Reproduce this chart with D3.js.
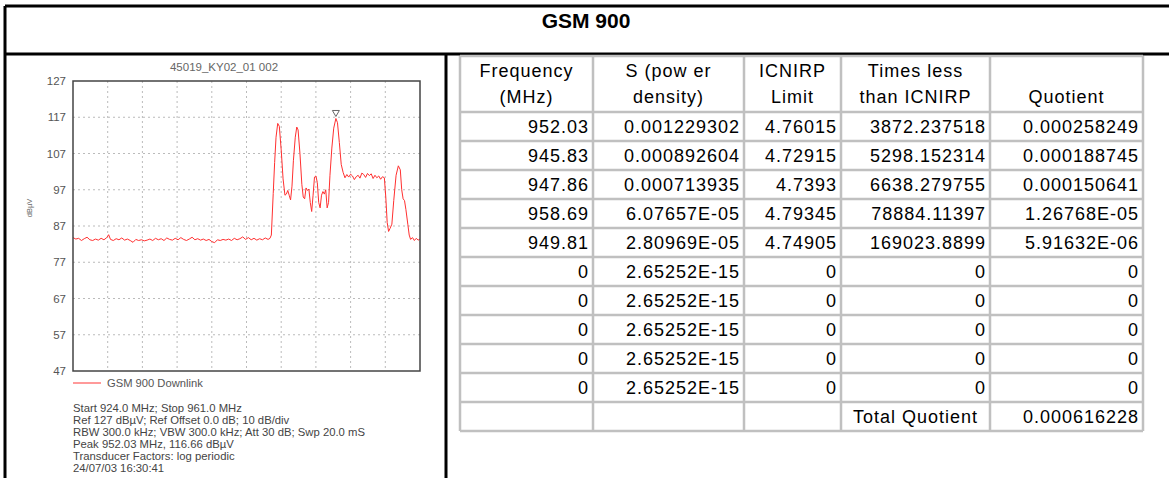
<!DOCTYPE html>
<html>
<head>
<meta charset="utf-8">
<script src="https://cdn.jsdelivr.net/npm/d3@7"></script>
<style>
body { margin: 0; background: #fff; }
svg { display: block; font-family: "Liberation Sans", Arial, sans-serif; }
</style>
</head>
<body>
<svg id="vis"></svg>
<script>
const WIDTH = 1169;
const HEIGHT = 478;

// ---- spectrum trace ----
const traceMHz = [
  924.0, 924.3, 924.6, 924.9, 925.2, 925.5, 925.8, 926.1, 926.4, 926.7,
  927.0, 927.3, 927.6, 927.8, 928.0, 928.3, 928.6, 928.9, 929.2, 929.5,
  929.8, 930.1, 930.4, 930.7, 931.0, 931.3, 931.6, 931.9, 932.2, 932.5,
  932.8, 933.1, 933.4, 933.7, 934.0, 934.3, 934.6, 934.9, 935.2, 935.5,
  935.8, 936.1, 936.4, 936.7, 937.0, 937.3, 937.6, 937.9, 938.2, 938.5,
  938.8, 939.1, 939.4, 939.7, 940.0, 940.3, 940.6, 940.9, 941.2, 941.5,
  941.8, 942.1, 942.4, 942.7, 943.0, 943.3, 943.6, 943.9, 944.2, 944.5,
  944.8, 945.0, 945.15, 945.35, 945.5, 945.65, 945.83, 946.0, 946.2, 946.4,
  946.6, 946.75, 946.9, 947.05, 947.2, 947.35, 947.5, 947.7, 947.86, 948.0,
  948.2, 948.4, 948.55, 948.7, 948.85, 949.0, 949.15, 949.3, 949.45, 949.6,
  949.75, 949.9, 950.05, 950.2, 950.35, 950.5, 950.65, 950.8, 950.95, 951.1,
  951.25, 951.4, 951.6, 951.8, 952.03, 952.2, 952.4, 952.6, 952.8, 953.0,
  953.2, 953.4, 953.6, 953.8, 954.0, 954.2, 954.4, 954.6, 954.8, 955.0,
  955.2, 955.4, 955.6, 955.8, 956.0, 956.2, 956.4, 956.6, 956.8, 957.0,
  957.2, 957.35, 957.5, 957.65, 957.8, 958.0, 958.2, 958.45, 958.69, 958.9,
  959.05, 959.2, 959.35, 959.5, 959.7, 959.85, 960.0, 960.2, 960.4, 960.6,
  960.8, 961.0
];
const traceDbuv = [
  83.8, 83.4, 83.6, 83.0, 83.5, 83.9, 83.2, 83.0, 83.4, 83.1,
  83.6, 83.2, 83.8, 84.6, 83.3, 83.0, 83.5, 83.2, 83.7, 83.1,
  83.4, 83.0, 82.5, 83.3, 83.0, 83.2, 82.9, 83.1, 83.4, 83.0,
  83.6, 83.2, 83.5, 83.0, 83.7, 83.3, 83.1, 83.6, 83.2, 83.8,
  83.3, 83.0, 83.4, 83.9, 83.2, 83.5, 83.1, 83.4, 83.0, 83.3,
  82.7, 82.4, 83.2, 83.0, 83.3, 83.1, 83.4, 83.0, 83.6, 83.2,
  83.5, 84.0, 83.3, 83.8, 83.2, 83.6, 83.1, 83.5, 83.2, 83.7,
  83.3, 83.6, 84.5, 96.0, 104.5, 111.5, 115.3, 114.5, 108.0, 100.0,
  95.5, 95.8, 96.8, 95.5, 94.2, 98.0, 105.0, 111.5, 114.3, 113.5,
  107.0, 98.5, 95.0, 94.5, 97.5, 96.8, 97.2, 93.5, 91.0, 95.5,
  100.5, 100.8, 99.0, 93.5, 92.0, 95.5, 96.5, 95.8, 97.0, 92.0,
  93.5, 101.0, 108.5, 114.0, 116.66, 115.5, 110.0, 104.0, 101.8, 100.3,
  101.2, 100.5, 101.3, 100.8, 99.8, 100.6, 101.0, 100.2, 101.6, 101.2,
  100.4, 101.5, 100.9, 101.4, 100.1, 101.0, 100.3, 100.8, 99.9, 100.6,
  100.3, 95.0, 88.0, 85.5, 86.3, 87.5, 94.0, 101.0, 103.6, 102.5,
  97.0, 94.5, 94.0, 91.5, 87.5, 84.5, 83.3, 83.8, 83.0, 83.6,
  83.1, 83.4
];
const yTickValues = [47, 57, 67, 77, 87, 97, 107, 117, 127];
const peakMarker = { mhz: 952.03, dbuv: 116.66 };
const chartTitle = "45019_KY02_01 002";
const legendLabel = "GSM 900 Downlink";
const infoLines = [
  "Start 924.0 MHz; Stop 961.0 MHz",
  "Ref 127 dB\u00b5V; Ref Offset 0.0 dB; 10 dB/div",
  "RBW 300.0 kHz; VBW 300.0 kHz; Att 30 dB; Swp 20.0 mS",
  "Peak 952.03 MHz, 116.66 dB\u00b5V",
  "Transducer Factors: log periodic",
  "24/07/03 16:30:41"
];

// ---- table values ----
const headerLines = [
  ["Frequency", "(MHz)"],
  ["S (pow er", "density)"],
  ["ICNIRP", "Limit"],
  ["Times less", "than ICNIRP"],
  ["", "Quotient"]
];
const colFrequency = ["952.03", "945.83", "947.86", "958.69", "949.81", "0", "0", "0", "0", "0", ""];
const colPowerDensity = ["0.001229302", "0.000892604", "0.000713935", "6.07657E-05", "2.80969E-05",
  "2.65252E-15", "2.65252E-15", "2.65252E-15", "2.65252E-15", "2.65252E-15", ""];
const colLimit = ["4.76015", "4.72915", "4.7393", "4.79345", "4.74905", "0", "0", "0", "0", "0", ""];
const colTimesLess = ["3872.237518", "5298.152314", "6638.279755", "78884.11397", "169023.8899",
  "0", "0", "0", "0", "0", "Total Quotient"];
const colQuotient = ["0.000258249", "0.000188745", "0.000150641", "1.26768E-05", "5.91632E-06",
  "0", "0", "0", "0", "0", "0.000616228"];

const svg = d3.select("#vis").attr("width", WIDTH).attr("height", HEIGHT);
svg.append("rect").attr("width", WIDTH).attr("height", HEIGHT).attr("fill", "#fff");

// ---------- outer frame ----------
const frame = svg.append("g").attr("stroke", "#000").attr("stroke-width", 3);
frame.append("line").attr("x1", 5).attr("x2", WIDTH).attr("y1", 6).attr("y2", 6);
frame.append("line").attr("x1", 5).attr("x2", WIDTH).attr("y1", 54).attr("y2", 54);
frame.append("line").attr("x1", 5).attr("x2", 5).attr("y1", 6).attr("y2", HEIGHT);
frame.append("line").attr("x1", 446).attr("x2", 446).attr("y1", 54).attr("y2", HEIGHT);

svg.append("text")
  .attr("x", 586).attr("y", 28)
  .attr("text-anchor", "middle")
  .attr("font-size", 21).attr("font-weight", "bold")
  .text("GSM 900");

// ---------- spectrum chart ----------
const plot = { left: 73, right: 420, top: 81, bottom: 371 };
const x = d3.scaleLinear().domain([924, 961]).range([plot.left, plot.right]);
const y = d3.scaleLinear().domain([47, 127]).range([plot.bottom, plot.top]);

const chart = svg.append("g");

chart.append("text")
  .attr("x", 224).attr("y", 71)
  .attr("text-anchor", "middle")
  .attr("font-size", 11.5).attr("fill", "#666")
  .text(chartTitle);

// grid
const xGrid = d3.range(1, 10).map(i => 924 + i * 3.7);
chart.append("g").selectAll("line").data(xGrid).join("line")
  .attr("x1", d => x(d)).attr("x2", d => x(d))
  .attr("y1", plot.top).attr("y2", plot.bottom)
  .attr("stroke", "#bbb").attr("stroke-dasharray", "2,3");
chart.append("g").selectAll("line").data(yTickValues.slice(1, -1)).join("line")
  .attr("x1", plot.left).attr("x2", plot.right)
  .attr("y1", d => y(d)).attr("y2", d => y(d))
  .attr("stroke", "#bbb").attr("stroke-dasharray", "2,3");

// y axis labels
const yAxis = d3.axisLeft(y).tickValues(yTickValues).tickSize(0).tickPadding(7);
chart.append("g")
  .attr("transform", `translate(${plot.left},0)`)
  .call(yAxis)
  .call(g => g.select(".domain").remove())
  .call(g => g.selectAll("text")
    .attr("font-size", 11.5).attr("fill", "#555")
    .attr("font-family", "\"Liberation Sans\", Arial, sans-serif"));

chart.append("text")
  .attr("transform", "translate(32,208) rotate(-90)")
  .attr("text-anchor", "middle")
  .attr("font-size", 7.5).attr("fill", "#666")
  .text("dB\u00b5V");

// trace
const line = d3.line().x(d => x(d[0])).y(d => y(d[1]));
chart.append("path")
  .datum(d3.zip(traceMHz, traceDbuv))
  .attr("d", line)
  .attr("fill", "none")
  .attr("stroke", "#ff3030")
  .attr("stroke-width", 1);

// peak marker
const px = x(peakMarker.mhz), py = y(peakMarker.dbuv) - 2;
chart.append("path")
  .attr("d", `M${px - 3.5},${py - 6} L${px + 3.5},${py - 6} L${px},${py} Z`)
  .attr("fill", "#fff").attr("stroke", "#666").attr("stroke-width", 1);

// plot frame
chart.append("rect")
  .attr("x", plot.left).attr("y", plot.top)
  .attr("width", plot.right - plot.left).attr("height", plot.bottom - plot.top)
  .attr("fill", "none").attr("stroke", "#444").attr("stroke-width", 1.5);

// legend
chart.append("line")
  .attr("x1", 73).attr("x2", 101).attr("y1", 383).attr("y2", 383)
  .attr("stroke", "#ff9a9a").attr("stroke-width", 2);
chart.append("text")
  .attr("x", 107).attr("y", 387)
  .attr("font-size", 11.2).attr("fill", "#555")
  .text(legendLabel);

chart.append("g").selectAll("text").data(infoLines).join("text")
  .attr("x", 73)
  .attr("y", (d, i) => 412 + i * 11.9)
  .attr("font-size", 11.3).attr("fill", "#444")
  .text(d => d);

// ---------- table ----------
const colEdges = [460, 593, 744, 841, 990, 1143];
const columns = [colFrequency, colPowerDensity, colLimit, colTimesLess, colQuotient];
const nRows = colFrequency.length;
const headTop = 56, headBottom = 112, tableBottom = 431;
const rowScale = d3.scaleBand().domain(d3.range(nRows)).range([headBottom, tableBottom]);

const table = svg.append("g");
const grid = table.append("g").attr("stroke", "#c0c0c0").attr("stroke-width", 2.5);
grid.selectAll(".v").data(colEdges).join("line")
  .attr("x1", d => d).attr("x2", d => d)
  .attr("y1", headTop).attr("y2", tableBottom);
const hLines = [headTop, ...rowScale.domain().map(r => rowScale(r)), tableBottom];
grid.selectAll(".h").data(hLines).join("line")
  .attr("x1", colEdges[0]).attr("x2", colEdges[colEdges.length - 1])
  .attr("y1", d => d).attr("y2", d => d);

const textStyle = sel => sel
  .attr("font-size", 18).attr("fill", "#000").attr("letter-spacing", 1);

headerLines.forEach((lines, c) => {
  const cx = (colEdges[c] + colEdges[c + 1]) / 2;
  lines.forEach((t, k) => {
    table.append("text")
      .attr("x", cx).attr("y", 77 + k * 26)
      .attr("text-anchor", "middle")
      .call(textStyle)
      .text(t);
  });
});

columns.forEach((col, c) => {
  table.append("g").selectAll("text").data(col).join("text")
    .attr("x", (d, r) => (c === 3 && r === nRows - 1)
      ? (colEdges[c] + colEdges[c + 1]) / 2
      : colEdges[c + 1] - 4)
    .attr("y", (d, r) => rowScale(r) + rowScale.bandwidth() / 2 + 6.5)
    .attr("text-anchor", (d, r) => (c === 3 && r === nRows - 1) ? "middle" : "end")
    .call(textStyle)
    .text(d => d);
});
</script>
</body>
</html>
